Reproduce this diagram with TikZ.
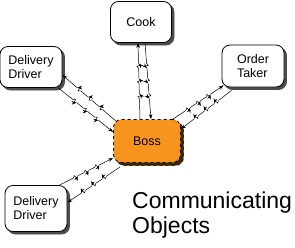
\documentclass[tikz,border=0pt]{standalone}
\usepackage{fontspec}
\setmainfont{Liberation Sans}
\usetikzlibrary{arrows.meta,shadows,decorations.markings}
\definecolor{bossorange}{HTML}{F7941D}
\definecolor{bossshadow}{HTML}{3A2600}

% small lightning kink drawn on a message line
\newcommand\msgzig{%
  \fill[white] (-2.4pt,-1.8pt) rectangle (2.4pt,1.8pt);
  \draw[line width=0.5pt] (-2.4pt,0) -- (-0.5pt,1.7pt) -- (0.5pt,-1.7pt) -- (2.4pt,0);}

\tikzset{
  obj/.style={draw,line width=0.8pt,rounded corners=8pt,fill=white,align=left,
    inner sep=2pt,font=\fontsize{12.5}{14}\selectfont,
    copy shadow={shadow xshift=2.5pt,shadow yshift=-2.5pt,fill=black!70,draw=black!70}},
  bossbox/.style={obj,dashed,fill=bossorange,
    copy shadow={shadow xshift=3pt,shadow yshift=-3pt,fill=bossshadow,draw=bossshadow}},
  msg/.style={line width=0.5pt,-{Stealth[length=5pt,width=3.5pt]},
    postaction={decorate,decoration={markings,
      mark=at position 0.3 with {\msgzig},
      mark=at position 0.5 with {\msgzig},
      mark=at position 0.7 with {\msgzig}}}},
  title/.style={align=left,inner sep=0pt,font=\fontsize{23}{25}\selectfont}
}

\begin{document}
\begin{tikzpicture}[x=1pt,y=-1pt]
  \useasboundingbox (0,0) rectangle (295,247);

  \node[obj,minimum width=61pt,minimum height=41pt] (cook) at (141,22) {Cook};
  \node[obj,minimum width=62pt,minimum height=41pt] (driver1) at (31,67) {Delivery\\Driver};
  \node[obj,minimum width=62pt,minimum height=42pt] (taker) at (253,66) {Order\\Taker};
  \node[bossbox,minimum width=67pt,minimum height=43pt] (boss) at (147,141) {Boss};
  \node[obj,minimum width=62pt,minimum height=46pt] (driver2) at (36,208.5) {Delivery\\Driver};

  \node[title,anchor=base west] (caption) at (132,233) {Communicating\\Objects};

  % boss <-> cook
  \draw[msg] ([xshift=-7pt]boss.north) -- ([xshift=-3pt]cook.south);
  \draw[msg] ([xshift=4pt]cook.south) -- ([xshift=4pt]boss.north);
  % boss <-> upper driver
  \draw[msg] ([xshift=4pt,yshift=-3pt]boss.north west) -- ([yshift=-8pt]driver1.east);
  \draw[msg] ([xshift=-4pt]driver1.south east) -- ([yshift=9pt]boss.west);
  % boss <-> order taker
  \draw[msg] ([xshift=-8pt]boss.north east) -- ([xshift=2pt,yshift=2pt]taker.south west);
  \draw[msg] ([xshift=10pt,yshift=-3pt]taker.south west) -- ([yshift=12pt]boss.east);
  % boss <-> lower driver
  \draw[msg] ([xshift=-8pt]driver2.north east) -- ([yshift=-17pt]boss.west);
  \draw[msg] ([xshift=7pt,yshift=-4pt]boss.south west) -- ([yshift=6pt]driver2.east);
\end{tikzpicture}
\end{document}
